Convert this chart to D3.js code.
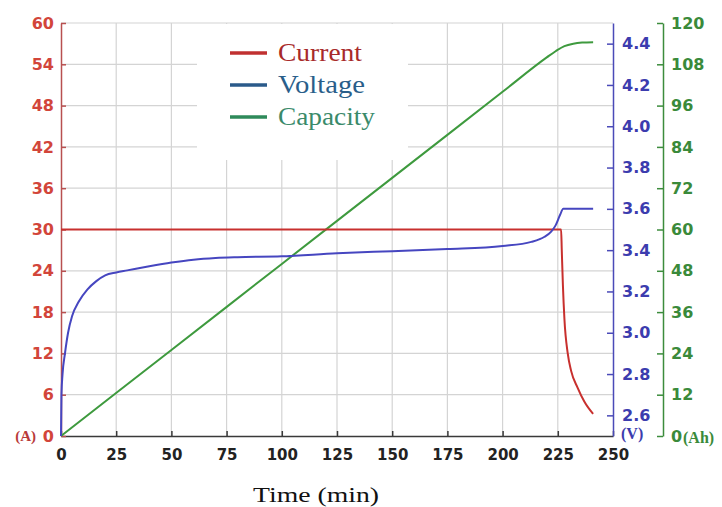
<!DOCTYPE html>
<html>
<head>
<meta charset="utf-8">
<script src="https://cdn.jsdelivr.net/npm/d3@7"></script>
<style>
  body { margin: 0; background: #fff; }
  svg { display: block; }
</style>
</head>
<body>
<svg width="722" height="507"></svg>
<script>
// tick values
const timeTicks = [0, 25, 50, 75, 100, 125, 150, 175, 200, 225, 250];
const currentTicks = [0, 6, 12, 18, 24, 30, 36, 42, 48, 54, 60];
const voltageTicks = [2.6, 2.8, 3.0, 3.2, 3.4, 3.6, 3.8, 4.0, 4.2, 4.4];
const capacityTicks = [0, 12, 24, 36, 48, 60, 72, 84, 96, 108, 120];

// current (A) vs time (min)
const currentTime = [0, 226.5, 226.8, 227.3, 228, 229.5, 231, 234, 237, 241];
const currentVals = [30, 30, 27, 22, 17, 12, 9.5, 7, 5, 3.2];

// voltage (V) vs time (min)
const voltageTime = [0, 0.2, 0.7, 1.8, 3.2, 5, 8, 12, 16, 20, 25, 30, 40, 50, 60, 70, 80, 100, 125, 150, 175, 200, 213, 219, 222, 224, 226, 227.5, 241];
const voltageVals = [2.5, 2.7, 2.8, 2.9, 3.0, 3.08, 3.15, 3.21, 3.25, 3.278, 3.292, 3.302, 3.322, 3.34, 3.354, 3.362, 3.366, 3.37, 3.385, 3.395, 3.405, 3.42, 3.44, 3.465, 3.49, 3.52, 3.57, 3.6, 3.6];

// capacity (Ah) vs time (min)
const capacityTime = [0, 50, 100, 150, 200, 220, 224, 228, 232, 236, 241];
const capacityVals = [0, 25, 50, 75, 100, 110, 111.8, 113.3, 114, 114.3, 114.4];

const legendNames = ["Current", "Voltage", "Capacity"];

const svg = d3.select("svg");
const mLeft = 61, mRight = 613, mTop = 23, mBottom = 436, capX = 663;

const x = d3.scaleLinear().domain([0, 250]).range([mLeft, mRight]);
const yI = d3.scaleLinear().domain([0, 60]).range([mBottom, mTop]);
const yV = d3.scaleLinear().domain([2.5, 4.5]).range([mBottom, mTop]);
const yC = d3.scaleLinear().domain([0, 120]).range([mBottom, mTop]);

const sans = "DejaVu Sans, sans-serif";
const serif = "Liberation Serif, Times New Roman, serif";

// grid
const grid = svg.append("g").attr("stroke", "#d4d4d4").attr("stroke-width", 1.2);
grid.selectAll("line.v").data(timeTicks.slice(1, -1)).join("line")
  .attr("x1", d => x(d)).attr("x2", d => x(d))
  .attr("y1", mTop).attr("y2", mBottom);
grid.selectAll("line.h").data(currentTicks.slice(1)).join("line")
  .attr("x1", mLeft).attr("x2", mRight)
  .attr("y1", d => yI(d)).attr("y2", d => yI(d));

// legend background
svg.append("rect").attr("x", 197).attr("y", mTop + 1).attr("width", 211).attr("height", 136).attr("fill", "#fff");

// axes
function styleAxis(g, lineColor, textColor, size) {
  g.select(".domain").attr("stroke", lineColor).attr("stroke-width", 1.5);
  g.selectAll(".tick line").attr("stroke", lineColor).attr("stroke-width", 1.5);
  g.selectAll(".tick text").attr("fill", textColor)
    .style("font-family", sans).style("font-size", size + "px").style("font-weight", "bold");
}

svg.append("g").attr("transform", `translate(0,${mBottom})`)
  .call(d3.axisBottom(x).tickValues(timeTicks).tickSize(-5).tickSizeOuter(0).tickPadding(13))
  .call(g => styleAxis(g, "#3a3a3a", "#222", 15));

svg.append("g").attr("transform", `translate(${mLeft},0)`)
  .call(d3.axisLeft(yI).tickValues(currentTicks).tickSize(-5).tickSizeOuter(0).tickPadding(7))
  .call(g => styleAxis(g, "#b85050", "#d2453a", 16));

svg.append("g").attr("transform", `translate(${mRight},0)`)
  .call(d3.axisRight(yV).tickValues(voltageTicks).tickFormat(d3.format(".1f")).tickSize(-6).tickSizeOuter(0).tickPadding(9))
  .call(g => styleAxis(g, "#4a4ab8", "#3c3cae", 16));

svg.append("g").attr("transform", `translate(${capX},0)`)
  .call(d3.axisRight(yC).tickValues(capacityTicks).tickSize(-6).tickSizeOuter(0).tickPadding(8))
  .call(g => styleAxis(g, "#3c8c3c", "#3a8a3a", 16));

// unit labels
svg.append("text").attr("x", 36).attr("y", yI(0) + 5).attr("text-anchor", "end")
  .style("font-family", serif).style("font-size", "15px").style("font-weight", "bold")
  .attr("fill", "#b83a3a").text("(A)");
svg.append("text").attr("x", mRight + 8).attr("y", yV(2.5) + 3)
  .style("font-family", serif).style("font-size", "16px").style("font-weight", "bold")
  .attr("fill", "#3c3cae").text("(V)");
svg.append("text").attr("x", capX + 20).attr("y", yC(0) + 7)
  .style("font-family", serif).style("font-size", "16px").style("font-weight", "bold")
  .attr("fill", "#3a8a3a").text("(Ah)");

// data lines
const curve = d3.curveMonotoneX;
const lineI = d3.line().x(d => x(d[0])).y(d => yI(d[1])).curve(curve);
const lineV = d3.line().x(d => x(d[0])).y(d => yV(d[1])).curve(curve);
const lineC = d3.line().x(d => x(d[0])).y(d => yC(d[1])).curve(curve);

svg.append("path").datum(d3.zip(capacityTime, capacityVals)).attr("d", lineC)
  .attr("fill", "none").attr("stroke", "#3e9a3e").attr("stroke-width", 2);
svg.append("path").datum(d3.zip(currentTime, currentVals)).attr("d", lineI)
  .attr("fill", "none").attr("stroke", "#c8302e").attr("stroke-width", 2);
svg.append("path").datum(d3.zip(voltageTime, voltageVals)).attr("d", lineV)
  .attr("fill", "none").attr("stroke", "#4646c0").attr("stroke-width", 2);

// legend
const legendLine = ["#c03030", "#2a5a8a", "#2e8a5a"];
const legendText = ["#a82a2a", "#2a5e8a", "#3a8a6a"];
const legendWidth = [84, 87, 97];
const lg = svg.append("g");
legendNames.forEach((name, i) => {
  const ly = 53 + i * 32;
  lg.append("line").attr("x1", 230).attr("x2", 267).attr("y1", ly).attr("y2", ly)
    .attr("stroke", legendLine[i]).attr("stroke-width", 3.5);
  lg.append("text").attr("x", 278).attr("y", ly + 8)
    .attr("textLength", legendWidth[i]).attr("lengthAdjust", "spacingAndGlyphs")
    .style("font-family", serif).style("font-size", "25px")
    .attr("fill", legendText[i]).text(name);
});

// x title
svg.append("text").attr("x", 253).attr("y", 502)
  .attr("textLength", 126).attr("lengthAdjust", "spacingAndGlyphs")
  .style("font-family", serif).style("font-size", "22px")
  .attr("fill", "#111").text("Time (min)");
</script>
</body>
</html>
